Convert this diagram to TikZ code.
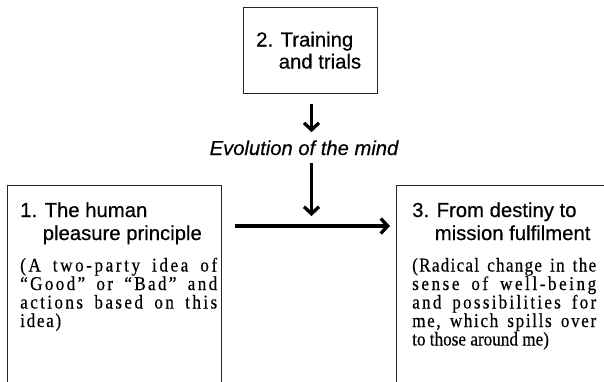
\documentclass[tikz,border=0pt]{standalone}
\usepackage{fontspec}
\setmainfont{Liberation Serif}
\setsansfont{Liberation Sans}[FakeBold=0.4]
\newfontfamily\bodyfont[FakeStretch=0.88, FakeBold=0.4]{Liberation Serif}
\usetikzlibrary{arrows.meta}

\makeatletter
% one word, with stretchable glue between its letters
\def\jl@word#1{\let\jl@sep\relax
  \@tfor\jl@c:=#1\do{\jl@sep\jl@c\def\jl@sep{\hskip0pt plus1fil\relax}}}
% words of a line, with more stretchable glue between them
\def\jl@loop#1 #2\@nil{\jl@word{#1}%
  \ifx\relax#2\relax\else\hskip\fontdimen2\font plus3fil\relax\jl@loop#2\@nil\fi}
% a line spread out to the given width
\newcommand\jline[2]{\hbox to #1{\jl@loop#2 \@nil}}
\makeatother

\newcommand\hdfont[1]{\sffamily\fontsize{20.3}{#1}\selectfont}
\newcommand\bodytext{\bodyfont\fontsize{19.5}{18.5}\selectfont}

\tikzset{
  frame/.style={draw=black!85, line width=1.3pt, inner sep=0pt},
  label/.style={inner sep=0pt, text=black},
  arr/.style={line width=3.3pt, draw=black,
    -{Straight Barb[length=7pt, width=15pt, line width=3.3pt]}}
}

\begin{document}
\begin{tikzpicture}[x=1pt, y=-1pt]
  \clip (0,0) rectangle (604,381);
  \fill[white] (0,0) rectangle (604,381);

  % frames
  \node[frame, anchor=north west, minimum width=134pt, minimum height=86pt] (box2) at (243,7) {};
  \node[frame, anchor=north west, minimum width=214pt, minimum height=230pt] (box1) at (7,185) {};
  \node[frame, anchor=north west, minimum width=240pt, minimum height=230pt] (box3) at (396,185) {};

  % box 2
  \node[label, anchor=base west] (h2) at (256,46.5)
    {\hdfont{22}\vtop{\hbox{2. Training}\hbox{\phantom{2.\ }and trials}}};

  % box 1
  \node[label, anchor=base west] (h1) at (20,217)
    {\hdfont{23}\vtop{\hbox{1. The human}\hbox{\phantom{1.\ }pleasure principle}}};
  \node[label, anchor=base west] (t1) at (20,271.5)
    {\bodytext\vtop{%
      \jline{197pt}{(A two-party idea of}
      \jline{197pt}{“Good” or “Bad” and}
      \jline{197pt}{actions based on this}
      \jline{41pt}{idea)}}};

  % box 3
  \node[label, anchor=base west] (h3) at (412,217)
    {\hdfont{23}\vtop{\hbox{3. From destiny to}\hbox{\phantom{3.\ }mission fulfilment}}};
  \node[label, anchor=base west] (t3) at (412,271.5)
    {\bodytext\vtop{%
      \jline{184pt}{(Radical change in the}
      \jline{184pt}{sense of well-being}
      \jline{184pt}{and possibilities for}
      \jline{184pt}{me, which spills over}
      \hbox{to those around me)}}};

  % the middle label
  \node[label, anchor=base] (evo) at (304,155)
    {\sffamily\itshape\fontsize{20.2}{24}\selectfont Evolution of the mind};

  % connectors
  \coordinate (hit) at (311.5,226);
  \draw[arr, shorten <=10pt, shorten >=8pt] (box2.south -| hit) -- (evo.north -| hit);
  \draw[arr, shorten <=8pt, shorten >=10pt] (evo.south -| hit) -- (hit);
  \draw[arr, shorten <=13pt, shorten >=6pt] (box1.east |- hit) -- (box3.west |- hit);
\end{tikzpicture}
\end{document}
